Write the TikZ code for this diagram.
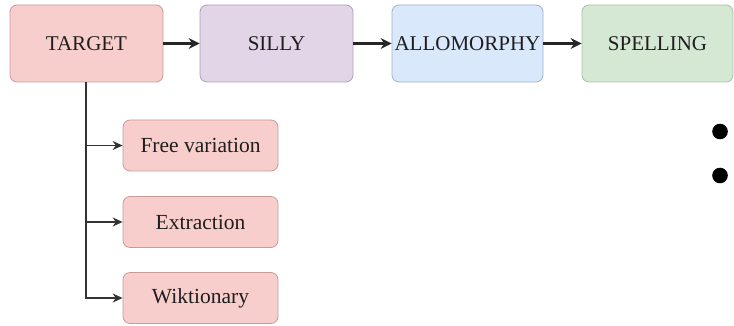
\documentclass[tikz,border=0pt]{standalone}
\usepackage{fontspec}
\setmainfont{Liberation Serif}
\usetikzlibrary{arrows.meta}
\definecolor{redF}{HTML}{F8CECC}\definecolor{redD}{HTML}{C99A98}
\definecolor{purF}{HTML}{E1D5E7}\definecolor{purD}{HTML}{AFA0B8}
\definecolor{bluF}{HTML}{DAE8FC}\definecolor{bluD}{HTML}{9FB0CC}
\definecolor{grnF}{HTML}{D5E8D4}\definecolor{grnD}{HTML}{A9C2A6}
\definecolor{txt}{HTML}{1E1E1E}
\tikzset{
 box/.style={rounded corners=7pt, line width=0.8pt, text=txt, font=\fontsize{21}{25}\selectfont, inner sep=0pt},
 mainbox/.style={box, minimum width=153pt, minimum height=77pt},
 subbox/.style={box, minimum width=155pt, minimum height=51pt, font=\fontsize{21.5}{25}\selectfont},
 conn/.style={line width=2.2pt, draw=black!85, -{Stealth[length=11pt,width=11pt]}},
 sconn/.style={line width=1.2pt, draw=black!80, -{Stealth[length=10pt,width=9pt]}},
}
\begin{document}
\begin{tikzpicture}[x=1pt,y=-1pt]
\useasboundingbox (0,0) rectangle (734,326);
\node[mainbox, fill=redF, draw=redD] (target) at (86.5,43.5) {TARGET};
\node[mainbox, fill=purF, draw=purD] (silly) at (276.5,43.5) {SILLY};
\node[mainbox, minimum width=151pt, fill=bluF, draw=bluD] (allo) at (467.5,43.5) {ALLOMORPHY};
\node[mainbox, minimum width=151pt, fill=grnF, draw=grnD] (spell) at (657.5,43.5) {SPELLING};
\node[subbox, fill=redF, draw=redD] (free) at (200.5,145.5) {Free variation};
\node[subbox, fill=redF, draw=redD] (extr) at (200.5,222) {Extraction};
\node[subbox, fill=redF, draw=redD] (wikt) at (200.5,298) {Wiktionary};
\coordinate (trunk) at (86,298);
\draw[conn] (target) -- (silly);
\draw[conn] (silly) -- (allo);
\draw[conn] (allo) -- (spell);
\draw[line width=1.9pt, draw=black!72] (target.south -| trunk) -- (trunk);
\draw[sconn] (target.south -| trunk) |- (free.west);
\draw[sconn] (target.south -| trunk) |- (extr.west);
\draw[sconn] (target.south -| trunk) |- (wikt.west);
\fill (720,131.5) circle (7.8pt);
\fill (720,175.5) circle (7.8pt);
\end{tikzpicture}
\end{document}
